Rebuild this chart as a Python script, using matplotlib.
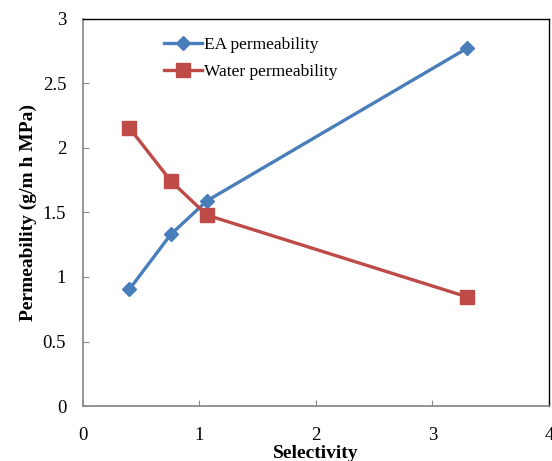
import matplotlib.pyplot as plt

selectivity = [0.40, 0.755, 1.064, 3.30]
ea_perm = [0.905, 1.33, 1.59, 2.775]
water_perm = [2.155, 1.745, 1.48, 0.845]

plt.rcParams['font.family'] = ['Liberation Serif', 'DejaVu Serif']

fig = plt.figure(figsize=(5.52, 4.61), dpi=100)
ax = fig.add_axes([0.150, 0.1193, 0.8446, 0.8395])

ax.plot(selectivity, ea_perm, color='#4A7EBB', lw=2.4, marker='D', ms=7,
        label='EA permeability')
ax.plot(selectivity, water_perm, color='#BE4B48', lw=2.4, marker='s', ms=9.5,
        label='Water permeability')

ax.set_xlim(0, 4)
ax.set_ylim(0, 3)
ax.set_xticks([0, 1, 2, 3, 4])
ax.set_xticklabels(['0', '1', '2', '3', '4'])
ax.set_yticks([0, 0.5, 1, 1.5, 2, 2.5, 3])
ax.set_yticklabels(['0', '0.5', '1', '1.5', '2', '2.5', '3'])
ax.tick_params(axis='x', direction='in', length=4, pad=15, labelsize=13.5, color='#888888')
ax.tick_params(axis='y', direction='in', length=4, pad=12, labelsize=13.5, color='#888888')

for s in ['left', 'bottom']:
    ax.spines[s].set_color('#8c8c8c')
    ax.spines[s].set_linewidth(1.3)
for s in ['top', 'right']:
    ax.spines[s].set_color('black')
    ax.spines[s].set_linewidth(1.0)

ax.set_xlabel('Selectivity', fontsize=14, fontweight='bold', labelpad=1)
ax.set_ylabel('Permeability (g/m h MPa)', fontsize=14, fontweight='bold', labelpad=4)

ax.legend(loc='upper left', bbox_to_anchor=(0.14, 0.995), frameon=False,
          fontsize=12.5, handlelength=2.2, handletextpad=0.15, labelspacing=0.65)

fig.savefig('out.png', dpi=100)
